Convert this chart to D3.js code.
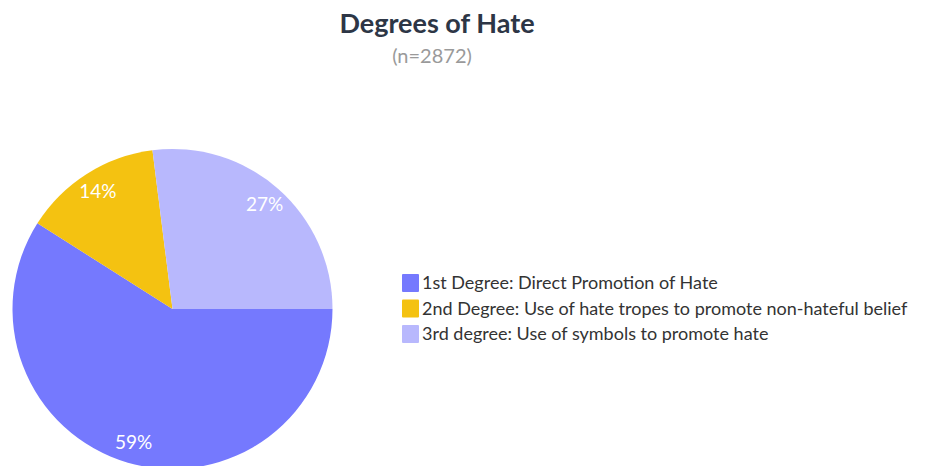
<!DOCTYPE html>
<html>
<head>
<meta charset="utf-8">
<script src="https://cdn.jsdelivr.net/npm/d3@7"></script>
<style>
  body { margin: 0; background: #fff; }
  svg { display: block; font-family: Lato, "Open Sans", sans-serif; }
</style>
</head>
<body>
<svg id="chart" width="928" height="466"></svg>
<script>
// chart data
var categories = [
  "1st Degree: Direct Promotion of Hate",
  "2nd Degree: Use of hate tropes to promote non-hateful belief",
  "3rd degree: Use of symbols to promote hate"
];
var values = [59, 14, 27];
var colors = ["#7579fe", "#f4c211", "#b8b8fd"];

var svg = d3.select("#chart");

svg.append("text")
  .attr("x", 437).attr("y", 33)
  .attr("text-anchor", "middle")
  .attr("font-size", 27).attr("font-weight", 700)
  .attr("fill", "#2d3646")
  .text("Degrees of Hate");

svg.append("text")
  .attr("x", 432).attr("y", 63)
  .attr("text-anchor", "middle")
  .attr("font-size", 20)
  .attr("fill", "#9a9a9a")
  .text("(n=2872)");

var radius = 160;
var data = categories.map(function(c, i) { return {name: c, value: values[i], color: colors[i]}; });

// start at 3 o'clock, go clockwise
var pie = d3.pie()
  .value(function(d) { return d.value; })
  .sort(null)
  .startAngle(Math.PI / 2)
  .endAngle(Math.PI / 2 + 2 * Math.PI);

var arc = d3.arc().innerRadius(0).outerRadius(radius);
var labelArc = d3.arc().innerRadius(radius * 0.87).outerRadius(radius * 0.87);

var g = svg.append("g").attr("transform", "translate(172.5,309)");

var slices = g.selectAll("g.slice")
  .data(pie(data))
  .enter()
  .append("g")
  .attr("class", "slice");

slices.append("path")
  .attr("d", arc)
  .attr("fill", function(d) { return d.data.color; });

slices.append("text")
  .attr("transform", function(d) { return "translate(" + labelArc.centroid(d) + ")"; })
  .attr("text-anchor", "middle")
  .attr("dy", "0.35em")
  .attr("font-size", 19)
  .attr("fill", "#fff")
  .text(function(d) { return d.data.value + "%"; });

// legend
var legend = svg.append("g").attr("transform", "translate(402,274)");
var rows = legend.selectAll("g.row")
  .data(data)
  .enter()
  .append("g")
  .attr("class", "row")
  .attr("transform", function(d, i) { return "translate(0," + (i * 25.5) + ")"; });

rows.append("rect")
  .attr("width", 17).attr("height", 18)
  .attr("rx", 1)
  .attr("fill", function(d) { return d.color; });

rows.append("text")
  .attr("x", 20).attr("y", 9)
  .attr("dy", "0.35em")
  .attr("font-size", 18)
  .attr("fill", "#333")
  .text(function(d) { return d.name; });
</script>
</body>
</html>
